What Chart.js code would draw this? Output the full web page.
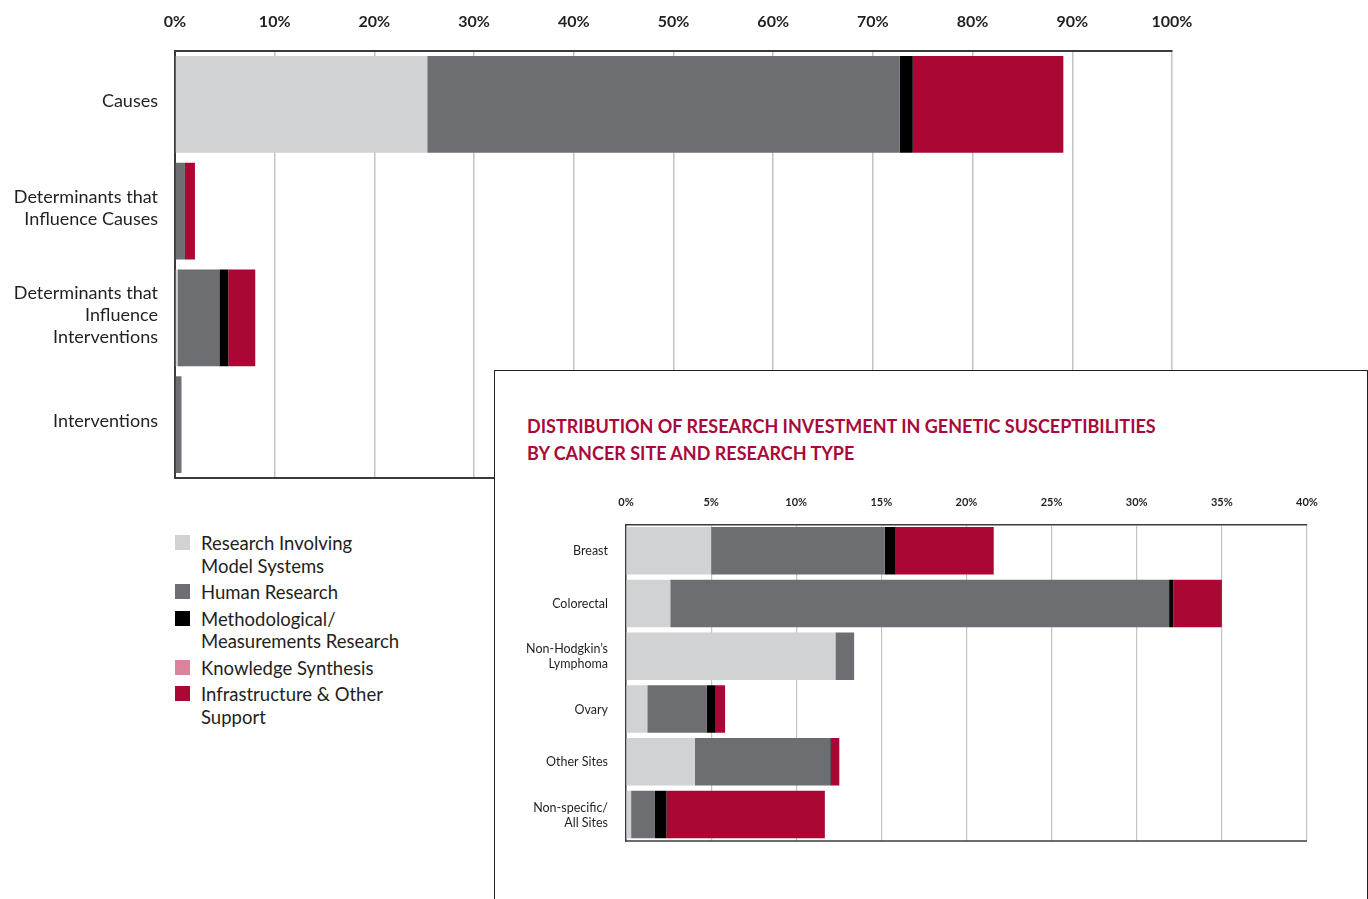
<!DOCTYPE html>
<html>
<head>
<meta charset="utf-8">
<script src="https://cdn.jsdelivr.net/npm/chart.js@4"></script>
<style>
  html,body{margin:0;padding:0;background:#fff;}
  body{width:1368px;height:899px;position:relative;overflow:hidden;font-family:Lato,"Open Sans",sans-serif;}
  #main{position:absolute;left:0;top:0;}
  #legend{position:absolute;left:175px;top:532px;color:#231f20;font-size:18.5px;line-height:22.5px;}
  .li{position:relative;padding-left:26px;margin-bottom:4px;}
  .sw{position:absolute;left:0;top:3px;width:15px;height:15px;}
  #inset{position:absolute;left:494px;top:370px;width:874px;height:560px;border:1px solid #231f20;box-sizing:border-box;background:#fff;}
  #title{position:absolute;left:32px;top:42px;color:#a8083a;font-weight:bold;font-size:18px;line-height:27px;white-space:nowrap;letter-spacing:0;}
  #sub{position:absolute;left:0;top:109px;}
</style>
</head>
<body>
<canvas id="main" width="1368" height="490"></canvas>
<div id="legend"></div>
<div id="inset">
  <div id="title">DISTRIBUTION OF RESEARCH INVESTMENT IN GENETIC SUSCEPTIBILITIES<br>BY CANCER SITE AND RESEARCH TYPE</div>
  <canvas id="sub" width="870" height="380"></canvas>
</div>
<script>
// ---- data ----
const seriesNames = ["Research Involving Model Systems","Human Research","Methodological/ Measurements Research","Knowledge Synthesis","Infrastructure & Other Support"];
const legendLines = [["Research Involving","Model Systems"],["Human Research"],["Methodological/","Measurements Research"],["Knowledge Synthesis"],["Infrastructure & Other","Support"]];
const colors = ["#d1d2d4","#6d6e71","#000000","#d9849b","#ab0735"];

// main chart (share of genetic-susceptibility investment by CSO category)
const mainCategories = [["Causes"],["Determinants that","Influence Causes"],["Determinants that","Influence","Interventions"],["Interventions"]];
const mainModel        = [25.3, 0.0, 0.25, 0.0];
const mainHuman        = [47.4, 1.0, 4.2, 0.65];
const mainMethod       = [1.3, 0.0, 0.9, 0.0];
const mainKnowledge    = [0.0, 0.0, 0.0, 0.0];
const mainInfra        = [15.1, 1.0, 2.7, 0.0];
const mainTicks = [0,10,20,30,40,50,60,70,80,90,100];

// inset chart (by cancer site)
const siteCategories = [["Breast"],["Colorectal"],["Non-Hodgkin’s","Lymphoma"],["Ovary"],["Other Sites"],["Non-specific/","All Sites"]];
const siteModel     = [5.0, 2.6, 12.3, 1.25, 4.05, 0.3];
const siteHuman     = [10.2, 29.3, 1.1, 3.5, 7.95, 1.4];
const siteMethod    = [0.6, 0.25, 0.0, 0.52, 0.08, 0.68];
const siteKnowledge = [0.0, 0.0, 0.0, 0.0, 0.0, 0.0];
const siteInfra     = [5.8, 2.85, 0.0, 0.55, 0.45, 9.3];
const siteTicks = [0,5,10,15,20,25,30,35,40];

// ---- legend ----
const lg = document.getElementById('legend');
legendLines.forEach((lines,i)=>{
  const d=document.createElement('div'); d.className='li';
  const s=document.createElement('span'); s.className='sw'; s.style.background=colors[i];
  d.appendChild(s);
  const t=document.createElement('span'); t.innerHTML=lines.join('<br>');
  d.appendChild(t);
  lg.appendChild(d);
});

const frameLines = {
  id:'frameLines',
  afterDatasetsDraw(chart, args, opts){
    const a=chart.chartArea, c=chart.ctx;
    c.save(); c.strokeStyle=opts.color; c.lineWidth=opts.width;
    c.beginPath(); c.moveTo(a.left-1, a.bottom); c.lineTo(a.right, a.bottom); c.stroke();
    c.restore();
  }
};

function makeDatasets(arrs){
  return arrs.map((d,i)=>({label:seriesNames[i], data:d, backgroundColor:colors[i], borderWidth:0}));
}

function makeChart(id, cats, arrs, ticks, cfg){
  return new Chart(document.getElementById(id), {
    type:'bar',
    data:{labels:cats, datasets:makeDatasets(arrs)},
    plugins:[frameLines],
    options:{
      indexAxis:'y', responsive:false, animation:false,
      categoryPercentage:1, barPercentage:cfg.barPct,
      layout:{padding:cfg.pad},
      plugins:{legend:{display:false}, tooltip:{enabled:false}, frameLines:{color:'#3b3b3b', width:cfg.border}},
      scales:{
        x:{
          position:'top', stacked:true, min:0, max:ticks[ticks.length-1],
          afterBuildTicks:(s)=>{ s.ticks = ticks.map(v=>({value:v})); },
          afterFit:(s)=>{ s.height = cfg.xh; s.paddingTop = 0; s.paddingBottom = 0; },
          grid:{color:'#c4c4c4', lineWidth:cfg.grid, drawTicks:false},
          border:{color:'#3b3b3b', width:cfg.border},
          ticks:{color:'#231f20', padding:cfg.xpad, font:{family:'Lato', weight:'bold', size:cfg.xfont}, callback:(v)=>v+'%', maxRotation:0, autoSkip:false}
        },
        y:{
          stacked:true,
          afterFit:(s)=>{ s.width = cfg.yw; s.paddingTop = 0; s.paddingBottom = 0; },
          grid:{display:false, drawTicks:false},
          border:{color:'#3b3b3b', width:cfg.border},
          ticks:{color:'#231f20', padding:cfg.ypad, labelOffset:cfg.yoff, font:{family:'Lato', size:cfg.yfont, lineHeight:cfg.ylh}}
        }
      }
    }
  });
}

makeChart('main', mainCategories, [mainModel,mainHuman,mainMethod,mainKnowledge,mainInfra], mainTicks,
  {barPct:0.906, pad:{top:12,right:196,bottom:12,left:0}, border:2, grid:1.5, xh:39, xpad:20, xfont:16, yw:175, ypad:17, yoff:-3, yfont:18, ylh:1.22});

makeChart('sub', siteCategories, [siteModel,siteHuman,siteMethod,siteKnowledge,siteInfra], siteTicks,
  {barPct:0.9, pad:{top:16,right:58,bottom:19,left:0}, border:1.5, grid:1.2, xh:28.3, xpad:15, xfont:11, yw:131, ypad:18, yoff:0.5, yfont:12.5, ylh:1.2});
</script>
</body>
</html>
